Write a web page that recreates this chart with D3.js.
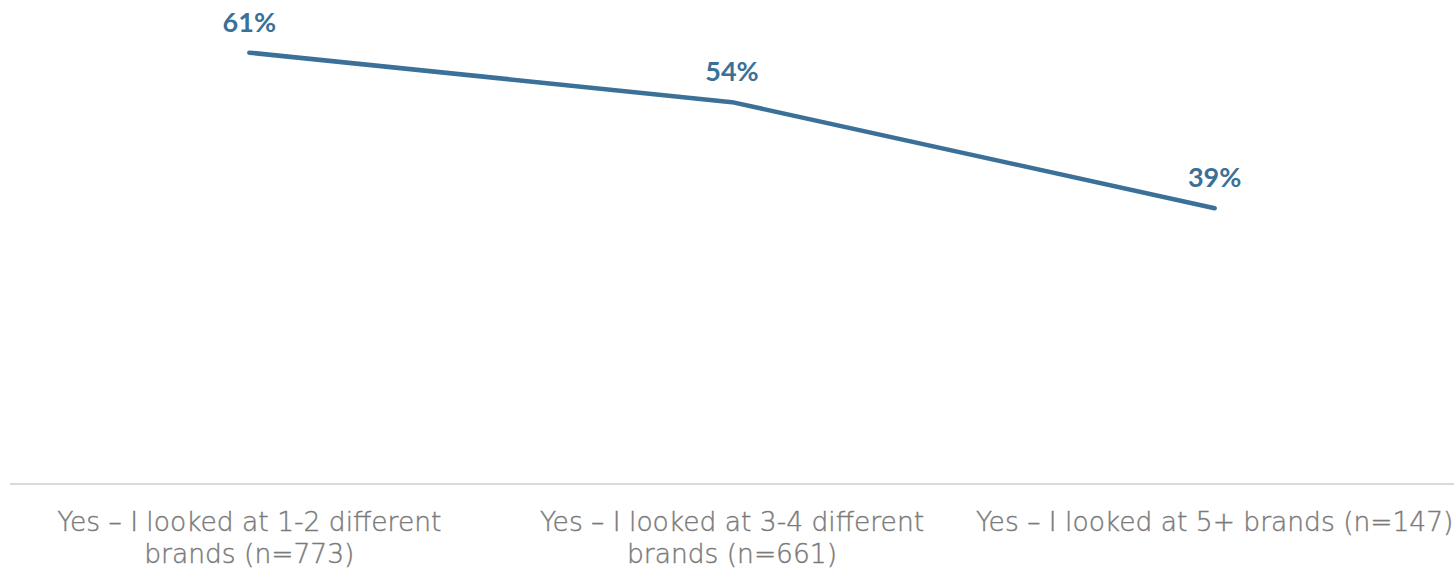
<!DOCTYPE html>
<html><head><meta charset="utf-8">
<script src="https://cdn.jsdelivr.net/npm/d3@7"></script>
<style>html,body{margin:0;padding:0;background:#fff;overflow:hidden}</style>
</head><body>
<svg id="chart" width="1454" height="571"></svg>
<script>
const categories = [
  ["Yes – I looked at 1-2 different", "brands (n=773)"],
  ["Yes – I looked at 3-4 different", "brands (n=661)"],
  ["Yes – I looked at 5+ brands (n=147)"]
];
const values = [0.61, 0.54, 0.39];
const valueLabels = ["61%", "54%", "39%"];

const svg = d3.select("#chart");
const keys = categories.map((c, i) => i);
const x = d3.scaleBand().domain(keys).range([8, 1456]);
const y = d3.scaleLinear().domain([0, 0.7]).range([484, -11]);

svg.append("line").attr("x1", 10).attr("x2", 1454)
  .attr("y1", y(0)).attr("y2", y(0))
  .attr("stroke", "#d9d9d9").attr("stroke-width", 2);

const line = d3.line().x((d, i) => x(i) + x.bandwidth() / 2).y(d => y(d));
svg.append("path").datum(values).attr("d", line)
  .attr("fill", "none").attr("stroke", "#3b7098").attr("stroke-width", 4.5)
  .attr("stroke-linecap", "round").attr("stroke-linejoin", "round");

svg.selectAll(".vl").data(values).enter().append("text")
  .attr("x", (d, i) => x(i) + x.bandwidth() / 2)
  .attr("y", d => y(d) - 21)
  .attr("text-anchor", "middle")
  .attr("font-family", "Lato, 'Open Sans', sans-serif")
  .attr("font-weight", "bold").attr("font-size", 27)
  .attr("fill", "#3b7098")
  .text((d, i) => valueLabels[i]);

const g = svg.selectAll(".cat").data(categories).enter().append("text")
  .attr("text-anchor", "middle")
  .attr("font-family", "'DejaVu Sans', sans-serif")
  .attr("font-weight", 200)
  .attr("font-size", 26.5).attr("fill", "#7a7a7a")
  .attr("stroke", "#7a7a7a").attr("stroke-width", 0.4)
  .attr("transform", (d, i) => `translate(${x(i) + x.bandwidth() / 2},531)`);
g.selectAll("tspan").data(d => d).enter().append("tspan")
  .attr("x", 0).attr("dy", (d, j) => j === 0 ? 0 : 32).text(d => d);
</script>
</body></html>
